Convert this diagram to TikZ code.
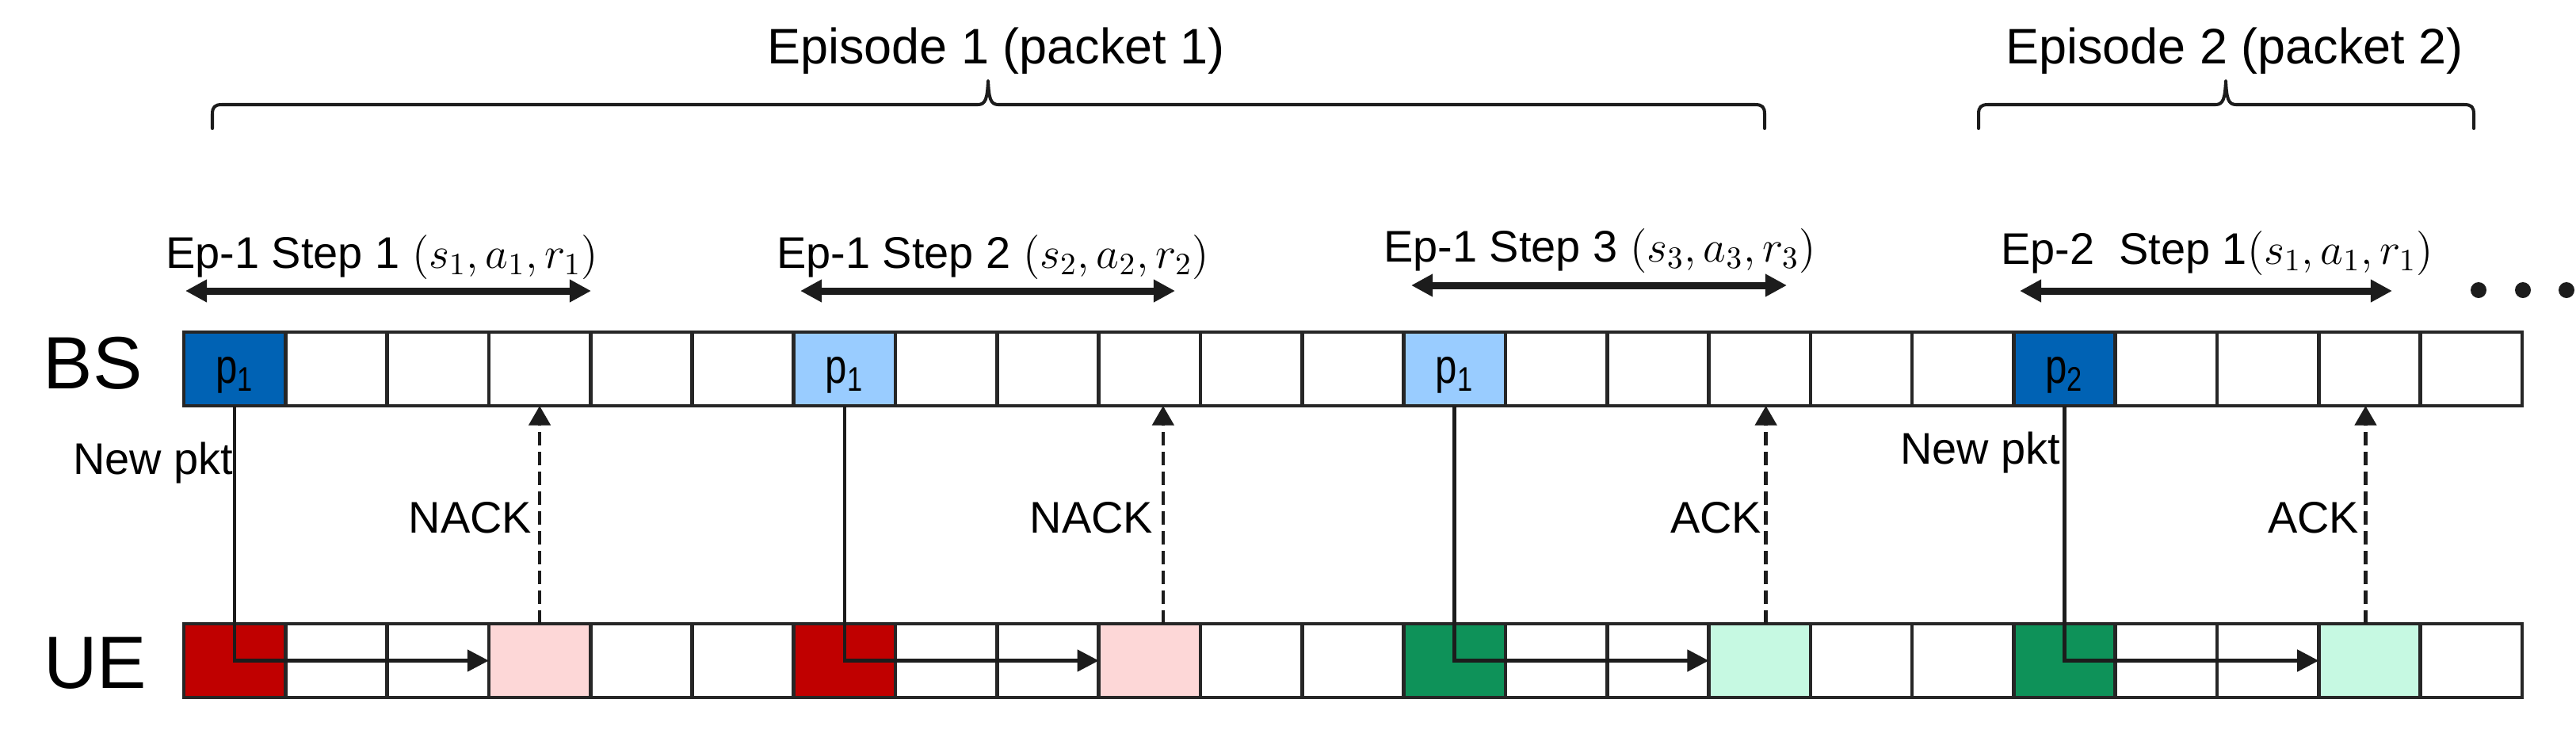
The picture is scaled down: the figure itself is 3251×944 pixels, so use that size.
\RequirePackage{fix-cm}
\documentclass[tikz,border=0pt]{standalone}
\usepackage{fontspec}
\setmainfont{Liberation Sans}
\usetikzlibrary{arrows.meta}
\definecolor{lc}{HTML}{262626}
\definecolor{ac}{HTML}{1C1C1C}
\definecolor{dblue}{RGB}{0,98,180}
\definecolor{lblue}{HTML}{99CCFF}
\definecolor{dred}{HTML}{C00000}
\definecolor{lpink}{HTML}{FDD7D7}
\definecolor{dgreen}{RGB}{14,146,89}
\definecolor{lgreen}{HTML}{C6F9E2}
\newcommand{\pkt}[1]{\scalebox{0.8}[1]{p\textsubscript{#1}}}
\tikzset{
  cell/.style={draw=lc, line width=1.3pt, minimum width=1.283cm, minimum height=0.93cm, inner sep=0pt, outer sep=0pt},
  pcell/.style={font=\fontsize{17.5}{21}\selectfont, text height=10.5pt, text depth=0pt},
  conn/.style={draw=ac, line width=1.3pt, -{Triangle[length=7.7pt,width=7.7pt]}},
  dconn/.style={conn, dash pattern=on 4.8pt off 2.3pt, -{Triangle[length=7pt,width=7.7pt]}},
  steparr/.style={draw=ac, line width=2.56pt, {Triangle[length=7.7pt,width=7.7pt]}-{Triangle[length=7.7pt,width=7.7pt]}},
  lab/.style={font=\fontsize{15.9}{19}\selectfont, inner sep=0pt, outer sep=0pt},
  eplab/.style={font=\fontsize{17.9}{21}\selectfont, inner sep=0pt, outer sep=0pt},
  biglab/.style={font=\fontsize{26.6}{32}\selectfont, inner sep=0pt, outer sep=0pt},
  bracepath/.style={draw=ac, line width=1.15pt, line cap=round, line join=round},
  dotnode/.style={circle, fill=ac, minimum size=2mm, inner sep=0pt}
}
\begin{document}
\begin{tikzpicture}[x=0.01cm, y=-0.01cm]
\useasboundingbox (0,0) rectangle (3251,944);
% plain cells
\foreach \i in {0,...,22} {
  \node[cell] (bs\i) at ({232+128.3*(\i+0.5)},465.5) {};
  \node[cell] (ue\i) at ({232+128.3*(\i+0.5)},833.5) {};
}
% coloured BS cells
\foreach \i/\c/\t in {0/dblue/1, 6/lblue/1, 12/lblue/1, 18/dblue/2}
  \node[cell, pcell, fill=\c] (bs\i) at ({232+128.3*(\i+0.5)},465.5) {\pkt{\t}};
% coloured UE cells
\foreach \i/\c in {0/dred, 3/lpink, 6/dred, 9/lpink, 12/dgreen, 15/lgreen, 18/dgreen, 21/lgreen}
  \node[cell, fill=\c] (ue\i) at ({232+128.3*(\i+0.5)},833.5) {};

% row labels
\node[biglab, anchor=base] (bslab) at (117,490) {BS};
\node[biglab, anchor=base] (uelab) at (120,868) {UE};

% transmissions
\draw[conn] (bs0.south) |- (ue3.west);
\draw[conn] (bs6.south) |- (ue9.west);
\draw[conn] (bs12.south) |- (ue15.west);
\draw[conn] (bs18.south) |- (ue21.west);
% feedback
\draw[dconn] (ue3.north) -- (bs3.south);
\draw[dconn] ([xshift=0.17cm]ue9.north) -- ([xshift=0.17cm]bs9.south);
\draw[dconn] ([xshift=0.08cm]ue15.north) -- ([xshift=0.08cm]bs15.south);
\draw[dconn] ([xshift=-0.05cm]ue21.north) -- ([xshift=-0.05cm]bs21.south);

\node[lab, anchor=base east] (np1) at (294,598) {New pkt};
\node[lab, anchor=base east] (np2) at (2600,585) {New pkt};
\node[lab, anchor=base east] (nack1) at (671,672) {NACK};
\node[lab, anchor=base east] (nack2) at (1455,672) {NACK};
\node[lab, anchor=base east] (ack1) at (2223,672) {ACK};
\node[lab, anchor=base east] (ack2) at (2977,672) {ACK};

% step arrows
\coordinate (s1l) at (234,367); \coordinate (s1r) at (746,367);
\coordinate (s2l) at (1010,367); \coordinate (s2r) at (1483,367);
\coordinate (s3l) at (1781,360); \coordinate (s3r) at (2255,360);
\coordinate (s4l) at (2549,367); \coordinate (s4r) at (3019,367);
\draw[steparr] (s1l) -- (s1r);
\draw[steparr] (s2l) -- (s2r);
\draw[steparr] (s3l) -- (s3r);
\draw[steparr] (s4l) -- (s4r);
\node[lab, anchor=base] (st1) at (482,338) {Ep-1 Step 1 $(s_1,a_1,r_1)$};
\node[lab, anchor=base] (st2) at (1253,338) {Ep-1 Step 2 $(s_2,a_2,r_2)$};
\node[lab, anchor=base] (st3) at (2019,330) {Ep-1 Step 3 $(s_3,a_3,r_3)$};
\node[lab, anchor=base] (st4) at (2798,333) {Ep-2~~Step 1$(s_1,a_1,r_1)$};

% dots
\node[dotnode] (d1) at (3128,366) {};
\node[dotnode] (d2) at (3184,366) {};
\node[dotnode] (d3) at (3239,366) {};

% episodes
\node[eplab, anchor=base] (ep1) at (1257,80) {Episode 1 (packet 1)};
\node[eplab, anchor=base] (ep2) at (2820,80) {Episode 2 (packet 2)};
\draw[bracepath] (268,162) -- (268,144) .. controls (268,135) and (271,132) .. (280,132)
  -- (1234,132) .. controls (1244,132) and (1246,124) .. (1247,102)
  .. controls (1248,124) and (1250,132) .. (1260,132)
  -- (2215,132) .. controls (2224,132) and (2227,135) .. (2227,144) -- (2227,162);
\draw[bracepath] (2497,162) -- (2497,144) .. controls (2497,135) and (2500,132) .. (2509,132)
  -- (2796,132) .. controls (2806,132) and (2808,124) .. (2809,102)
  .. controls (2810,124) and (2812,132) .. (2822,132)
  -- (3110,132) .. controls (3119,132) and (3122,135) .. (3122,144) -- (3122,162);
\end{tikzpicture}
\end{document}
